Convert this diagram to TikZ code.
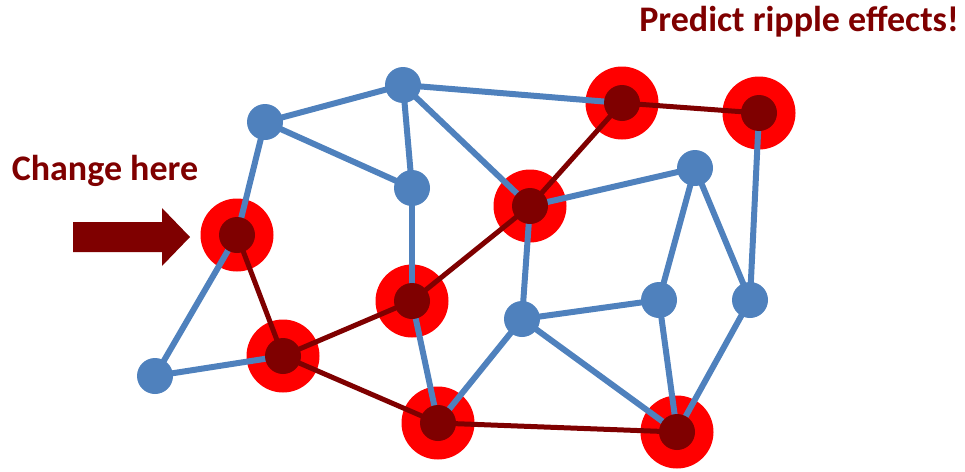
\documentclass[tikz,border=0pt]{standalone}
\usepackage{fontspec}
\setmainfont{Carlito}
\definecolor{nblue}{HTML}{4F81BD}
\definecolor{nred}{HTML}{FF0000}
\definecolor{ndark}{HTML}{7F0000}
\begin{document}
\begin{tikzpicture}[x=1pt,y=-1pt,
  halo/.style={circle,fill=nred,minimum size=73pt,inner sep=0pt},
  core/.style={circle,fill=ndark,minimum size=36pt,inner sep=0pt},
  bnode/.style={circle,fill=nblue,minimum size=36pt,inner sep=0pt},
  bedge/.style={draw=nblue,line width=6pt},
  redge/.style={draw=ndark,line width=5pt},
  lbl/.style={text=ndark,font=\fontsize{36}{40}\selectfont\bfseries,inner sep=0pt}]
\useasboundingbox (0,0) rectangle (965,471);
% positions
\coordinate (A) at (403,85);
\coordinate (B) at (265,122);
\coordinate (C) at (622,103);
\coordinate (D) at (759,113);
\coordinate (E) at (412,188);
\coordinate (F) at (530,206);
\coordinate (G) at (695,168);
\coordinate (H) at (237,235);
\coordinate (I) at (412,301);
\coordinate (J) at (522,319);
\coordinate (K) at (659,300);
\coordinate (L) at (750,300);
\coordinate (M) at (155,376);
\coordinate (N) at (283,356);
\coordinate (O) at (438,423);
\coordinate (P) at (677,432);
% halos
\foreach \n in {C,D,F,H,I,N,O,P} \node[halo] (h\n) at (\n) {};
% blue edges
\foreach \a/\b in {A/C,D/L,A/F,A/E,A/B,B/E,B/H,E/I,F/G,F/J,G/K,G/L,J/K,J/O,J/P,K/P,L/P,H/M,M/N,I/O}
  \draw[bedge] (\a) -- (\b);
% dark red edges
\foreach \a/\b in {C/D,C/F,F/I,H/N,I/N,N/O,O/P}
  \draw[redge] (\a) -- (\b);
% node cores
\foreach \n in {C,D,F,H,I,N,O,P} \node[core] (c\n) at (\n) {};
\foreach \n in {A,B,E,G,J,K,L,M} \node[bnode] (b\n) at (\n) {};
% labels
\node[lbl,anchor=east] (pred) at (959,22) {Predict ripple effects!};
\node[lbl] (chg) at (105,171) {Change here};
% arrow
\fill[ndark] (73,222) -- (162,222) -- (162,208) -- (190,237) -- (162,266) -- (162,252) -- (73,252) -- cycle;
\end{tikzpicture}
\end{document}
